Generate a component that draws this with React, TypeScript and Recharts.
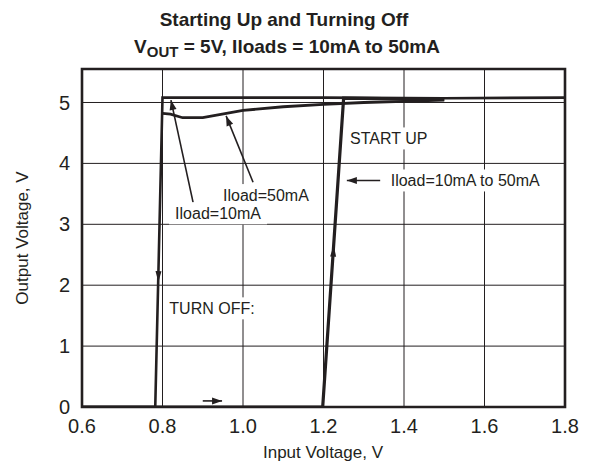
import {
  LineChart,
  Line,
  XAxis,
  YAxis,
  CartesianGrid,
  ReferenceArea,
  ReferenceLine,
  ReferenceDot,
} from "recharts";

// turn-off trace (Iload = 10mA), read right to left on the plot
const turnOffX = [0.6, 0.782, 0.8, 1.2, 1.5, 1.8];
const turnOffY = [0, 0, 5.08, 5.08, 5.07, 5.08];

// Iload = 50mA trace
const load50X = [0.8, 0.82, 0.85, 0.9, 1.0, 1.1, 1.2, 1.3, 1.4, 1.5];
const load50Y = [4.82, 4.81, 4.75, 4.75, 4.87, 4.93, 4.97, 5.0, 5.02, 5.04];

// start-up trace (Iload = 10mA to 50mA)
const startUpX = [0.6, 1.198, 1.25, 1.5];
const startUpY = [0, 0, 5.07, 5.05];

const xTicks = [0.6, 0.8, 1.0, 1.2, 1.4, 1.6, 1.8];
const yTicks = [0, 1, 2, 3, 4, 5];

const toPoints = (xs: number[], ys: number[]) => xs.map((x, i) => ({ x, y: ys[i] }));

const turnOff = toPoints(turnOffX, turnOffY);
const load50 = toPoints(load50X, load50Y);
const startUp = toPoints(startUpX, startUpY);

const ink = "#231f20";
const font = "'Liberation Sans', Arial, Helvetica, sans-serif";

function headPoints(x1: number, y1: number, x2: number, y2: number, len = 10, half = 3.5) {
  const a = Math.atan2(y2 - y1, x2 - x1);
  const bx = x2 - len * Math.cos(a);
  const by = y2 - len * Math.sin(a);
  const s = Math.sin(a);
  const c = Math.cos(a);
  return `${x2},${y2} ${bx - half * s},${by + half * c} ${bx + half * s},${by - half * c}`;
}

// line with arrowhead at the second point
const arrow = (p: any) => (
  <g>
    <line x1={p.x1} y1={p.y1} x2={p.x2} y2={p.y2} stroke={ink} strokeWidth={1.6} />
    <polygon points={headPoints(p.x1, p.y1, p.x2, p.y2)} fill={ink} />
  </g>
);

// arrowhead only, used on the traces
const headOnly = (p: any) => (
  <polygon points={headPoints(p.x1, p.y1, p.x2, p.y2, 11, 3)} fill={ink} />
);

const note = (text: string) => (p: any) => {
  const w = text.length * 9 + 8;
  return (
    <g>
      <rect x={p.cx - w / 2} y={p.cy - 11} width={w} height={22} fill="#fff" />
      <text
        x={p.cx}
        y={p.cy}
        dy="0.35em"
        textAnchor="middle"
        fontSize={16}
        fontFamily={font}
        fill={ink}
      >
        {text}
      </text>
    </g>
  );
};

export default function App() {
  return (
    <div style={{ position: "absolute", left: 0, top: 0, width: 592, height: 471, background: "#fff" }}>
      <LineChart
        width={592}
        height={471}
        margin={{ top: 69, right: 27, bottom: 0, left: 0 }}
      >
        <CartesianGrid stroke={ink} strokeWidth={1} />
        <XAxis
          type="number"
          dataKey="x"
          domain={[0.6, 1.8]}
          ticks={xTicks}
          allowDataOverflow
          height={64}
          axisLine={false}
          tickLine={false}
          tickSize={0}
          tickMargin={12}
          tickFormatter={(v: number) => v.toFixed(1)}
          tick={{ fill: ink, fontSize: 20, fontFamily: font }}
        />
        <YAxis
          type="number"
          domain={[0, 5.55]}
          ticks={yTicks}
          allowDataOverflow
          width={82}
          axisLine={false}
          tickLine={false}
          tickSize={0}
          tickMargin={12}
          tick={{ fill: ink, fontSize: 20, fontFamily: font }}
        />
        <ReferenceDot x={0.938} y={3.18} r={0} shape={note("Iload=10mA")} />
        <ReferenceDot x={1.057} y={3.48} r={0} shape={note("Iload=50mA")} />
        <ReferenceDot x={1.362} y={4.41} r={0} shape={note("START UP")} />
        <ReferenceDot x={1.552} y={3.72} r={0} shape={note("Iload=10mA to 50mA")} />
        <ReferenceDot x={0.923} y={1.62} r={0} shape={note("TURN OFF:")} />
        <ReferenceLine segment={[{ x: 0.876, y: 3.36 }, { x: 0.821, y: 5.04 }]} shape={arrow} />
        <ReferenceLine segment={[{ x: 1.025, y: 3.69 }, { x: 0.958, y: 4.78 }]} shape={arrow} />
        <ReferenceLine segment={[{ x: 1.345, y: 3.72 }, { x: 1.258, y: 3.72 }]} shape={arrow} />
        <ReferenceLine segment={[{ x: 0.9, y: 0.1 }, { x: 0.948, y: 0.1 }]} shape={arrow} />
        <ReferenceLine segment={[{ x: 0.7904, y: 2.4 }, { x: 0.7896, y: 2.05 }]} shape={headOnly} />
        <ReferenceLine segment={[{ x: 1.2223, y: 2.3 }, { x: 1.2256, y: 2.65 }]} shape={headOnly} />
        <Line
          data={turnOff}
          dataKey="y"
          type="linear"
          stroke={ink}
          strokeWidth={2.6}
          dot={false}
          isAnimationActive={false}
        />
        <Line
          data={load50}
          dataKey="y"
          type="linear"
          stroke={ink}
          strokeWidth={2.8}
          dot={false}
          isAnimationActive={false}
        />
        <Line
          data={startUp}
          dataKey="y"
          type="linear"
          stroke={ink}
          strokeWidth={3.2}
          dot={false}
          isAnimationActive={false}
        />
        <ReferenceArea x1={0.6} x2={1.8} y1={0} y2={5.55} fill="none" stroke={ink} strokeWidth={2.6} />
      </LineChart>
      <svg
        width={592}
        height={471}
        style={{ position: "absolute", left: 0, top: 0, pointerEvents: "none" }}
        fontFamily={font}
        fill={ink}
      >
        <text x={284} y={26} textAnchor="middle" fontSize={19} fontWeight="bold">
          Starting Up and Turning Off
        </text>
        <text x={287} y={53} textAnchor="middle" fontSize={19} fontWeight="bold">
          V<tspan fontSize={15} dy={4}>OUT</tspan>
          <tspan dy={-4}> = 5V, Iloads = 10mA to 50mA</tspan>
        </text>
        <text x={323} y={458} textAnchor="middle" fontSize={17}>
          Input Voltage, V
        </text>
        <text
          x={28}
          y={238}
          textAnchor="middle"
          fontSize={17}
          transform="rotate(-90 28 238)"
        >
          Output Voltage, V
        </text>
      </svg>
    </div>
  );
}
